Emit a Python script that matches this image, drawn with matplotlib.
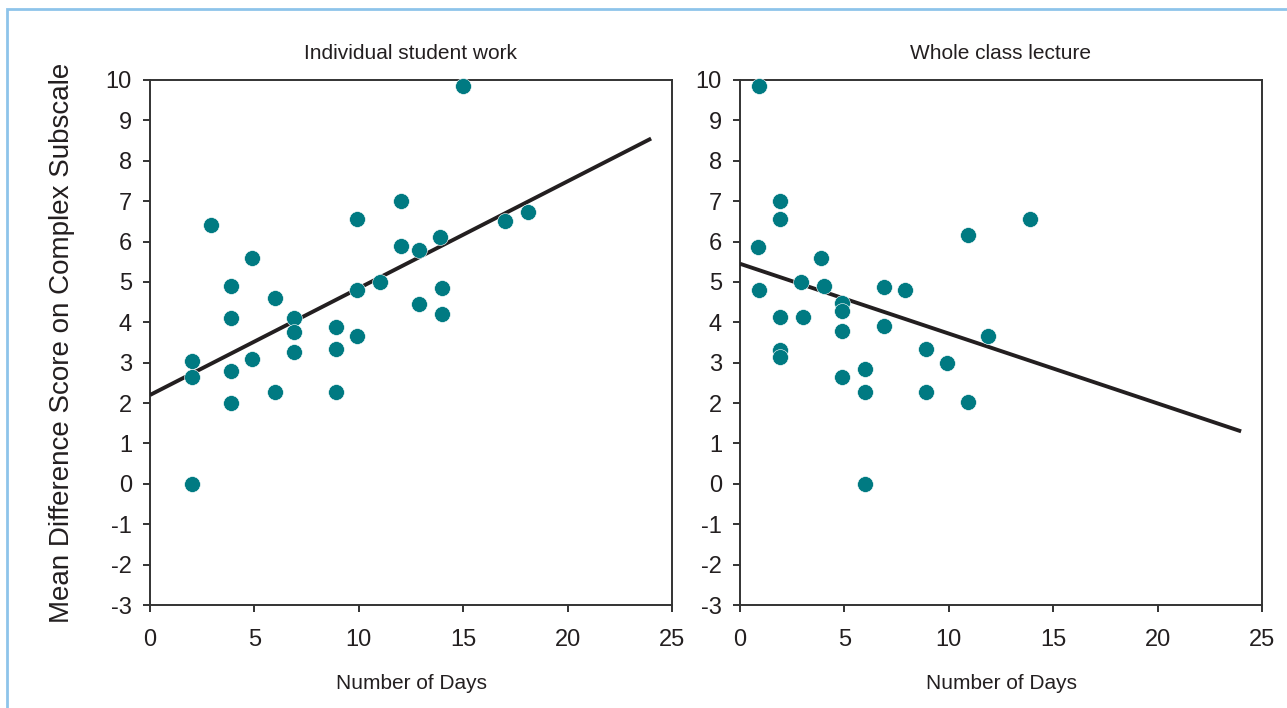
import matplotlib
matplotlib.use("Agg")
import matplotlib.pyplot as plt
from matplotlib.patches import Rectangle

plt.rcParams['font.family'] = ['Liberation Sans', 'DejaVu Sans']
plt.rcParams['axes.unicode_minus'] = False

# Individual student work
indiv_days = [2, 2, 2, 2.9, 3.9, 3.9, 3.9, 3.9, 4.9, 4.9, 6, 6, 6.9, 6.9, 6.9,
              8.9, 8.9, 8.9, 9.9, 9.9, 9.9, 11, 12, 12, 12.9, 12.9, 15, 13.9,
              14, 14, 17, 18.1]
indiv_score = [0, 3.05, 2.65, 6.4, 4.9, 4.1, 2.8, 2.0, 5.6, 3.1, 4.6, 2.27, 4.1, 3.75, 3.27,
               3.88, 3.34, 2.27, 6.55, 4.8, 3.65, 5.0, 7.0, 5.9, 5.8, 4.45, 9.85, 6.1,
               4.85, 4.2, 6.52, 6.72]
indiv_fit_x = [0, 24]
indiv_fit_y = [2.2, 8.55]

# Whole class lecture
lect_days = [0.9, 1.9, 1.9, 0.85, 0.9, 1.9, 1.9, 1.9, 2.9, 3.0, 3.9, 4.0, 4.9, 4.9, 4.9,
             4.9, 6.0, 6.0, 6.0, 6.9, 6.9, 7.9, 8.9, 8.9, 9.9, 10.9, 10.9, 11.9, 13.9]
lect_score = [9.85, 7.0, 6.56, 5.87, 4.8, 4.13, 3.32, 3.15, 5.0, 4.13, 5.6, 4.9, 4.48, 4.28, 3.78,
              2.65, 2.84, 2.28, 0, 4.87, 3.9, 4.8, 3.34, 2.28, 3.0, 6.15, 2.02, 3.66, 6.55]
lect_fit_x = [0, 24]
lect_fit_y = [5.45, 1.3]

titles = ['Individual student work', 'Whole class lecture']
xticks = [0, 5, 10, 15, 20, 25]
yticks = list(range(-3, 11))

teal = '#007a82'
ink = '#231f20'

fig = plt.figure(figsize=(12.87, 7.08), dpi=100)
W, H = 1287, 708

# light blue frame around the figure
fig.patches.append(Rectangle((7 / W, -0.05), 1.2, 1 - 9 / H + 0.05, transform=fig.transFigure,
                             fill=False, edgecolor='#8ec4ea', linewidth=2))

panels = [(150, indiv_days, indiv_score, indiv_fit_x, indiv_fit_y),
          (740, lect_days, lect_score, lect_fit_x, lect_fit_y)]

for i, (left, xs, ys, fx, fy) in enumerate(panels):
    ax = fig.add_axes([left / W, 1 - 605 / H, 522 / W, 525 / H])
    ax.plot(fx, fy, color=ink, linewidth=2.8, solid_capstyle='butt', zorder=3)
    ax.scatter(xs, ys, s=130, color=teal, edgecolors='white', linewidths=0.4,
               zorder=5, clip_on=False)
    ax.set_xlim(0, 25)
    ax.set_ylim(-3, 10)
    ax.set_xticks(xticks)
    ax.set_yticks(yticks)
    ax.tick_params(direction='out', length=5, width=1.4, color='#333333',
                   labelsize=17, labelcolor=ink)
    ax.tick_params(axis='x', pad=12)
    ax.tick_params(axis='y', pad=8)
    for sp in ax.spines.values():
        sp.set_color('#333333')
        sp.set_linewidth(1.4)
    ax.set_title(titles[i], fontsize=15, color=ink, pad=15)
    ax.set_xlabel('Number of Days', fontsize=15, color=ink, labelpad=17)
    if i == 0:
        ax.set_ylabel('Mean Difference Score on Complex Subscale', fontsize=20,
                      color=ink, labelpad=22)

plt.savefig('out.png', dpi=100)
